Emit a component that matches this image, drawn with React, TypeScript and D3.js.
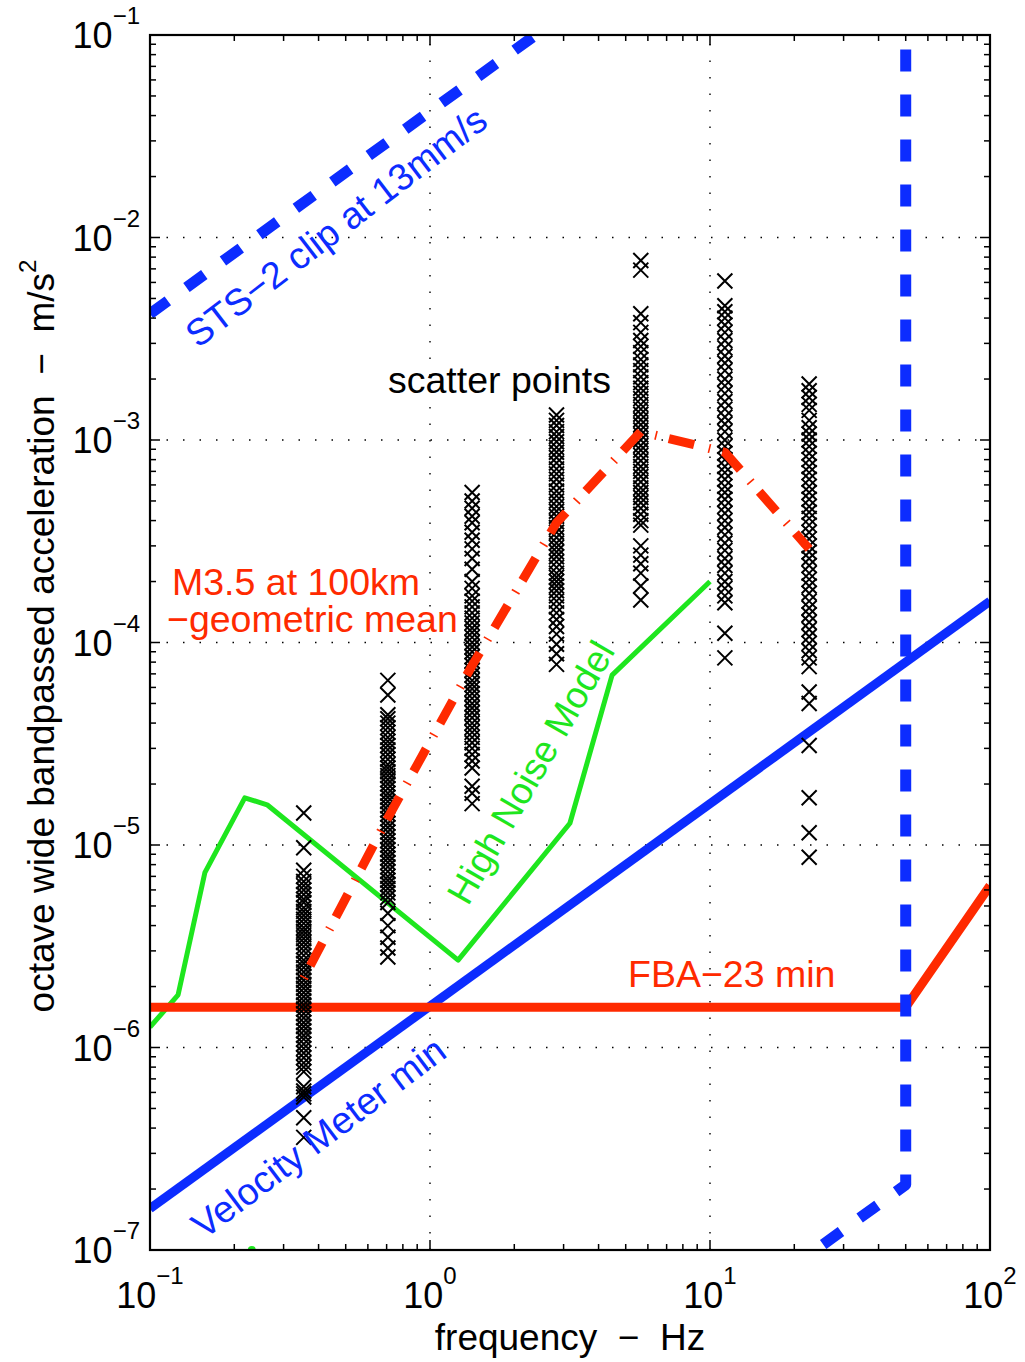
import React from "react";
import * as d3 from "d3";

// Octave band centre frequencies (Hz) of the scatter columns
const bandFreqs = [0.354, 0.707, 1.414, 2.83, 5.66, 11.3, 22.6];

// Band-passed peak accelerations (m/s^2) per octave band
const band1 = [1.44e-5, 9.7e-6, 7.5e-6, 7.0e-6, 6.6e-6, 6.3e-6, 6.0e-6, 5.7e-6, 5.4e-6, 5.2e-6, 4.9e-6, 4.7e-6, 4.5e-6, 4.3e-6, 4.1e-6, 3.9e-6, 3.75e-6, 3.6e-6, 3.45e-6, 3.3e-6, 3.15e-6, 3.0e-6, 2.85e-6, 2.7e-6, 2.6e-6, 2.48e-6, 2.36e-6, 2.25e-6, 2.15e-6, 2.05e-6, 1.96e-6, 1.87e-6, 1.78e-6, 1.7e-6, 1.62e-6, 1.55e-6, 1.47e-6, 1.4e-6, 1.33e-6, 1.27e-6, 1.21e-6, 1.15e-6, 1.1e-6, 1.04e-6, 9.9e-7, 9.4e-7, 8.9e-7, 8.4e-7, 8.0e-7, 7.6e-7, 6.4e-7, 6.1e-7, 5.9e-7, 5.7e-7, 4.5e-7, 3.6e-7];
const band2 = [6.5e-5, 5.5e-5, 4.4e-5, 4.2e-5, 4.0e-5, 3.8e-5, 3.6e-5, 3.4e-5, 3.25e-5, 3.1e-5, 2.95e-5, 2.8e-5, 2.65e-5, 2.5e-5, 2.4e-5, 2.3e-5, 2.2e-5, 2.1e-5, 2.0e-5, 1.9e-5, 1.8e-5, 1.72e-5, 1.64e-5, 1.56e-5, 1.49e-5, 1.42e-5, 1.35e-5, 1.28e-5, 1.22e-5, 1.16e-5, 1.1e-5, 1.05e-5, 1.0e-5, 9.5e-6, 9.0e-6, 8.6e-6, 8.2e-6, 7.8e-6, 7.4e-6, 7.0e-6, 6.7e-6, 6.4e-6, 6.1e-6, 5.8e-6, 5.5e-6, 5.2e-6, 4.6e-6, 4.0e-6, 3.5e-6, 3.1e-6, 2.8e-6];
const band3 = [5.5e-4, 5.0e-4, 4.6e-4, 4.2e-4, 3.9e-4, 3.5e-4, 3.2e-4, 2.9e-4, 2.6e-4, 2.3e-4, 2.0e-4, 1.85e-4, 1.7e-4, 1.6e-4, 1.5e-4, 1.4e-4, 1.32e-4, 1.25e-4, 1.18e-4, 1.12e-4, 1.06e-4, 1.0e-4, 9.5e-5, 9.0e-5, 8.5e-5, 8.1e-5, 7.7e-5, 7.3e-5, 6.9e-5, 6.5e-5, 6.2e-5, 5.9e-5, 5.6e-5, 5.3e-5, 5.0e-5, 4.75e-5, 4.5e-5, 4.25e-5, 4.0e-5, 3.8e-5, 3.6e-5, 3.4e-5, 3.2e-5, 3.0e-5, 2.8e-5, 2.6e-5, 2.4e-5, 1.95e-5, 1.8e-5, 1.6e-5];
const band4 = [1.33e-3, 1.25e-3, 1.18e-3, 1.1e-3, 1.04e-3, 9.8e-4, 9.2e-4, 8.7e-4, 8.2e-4, 7.7e-4, 7.2e-4, 6.8e-4, 6.4e-4, 6.0e-4, 5.6e-4, 5.3e-4, 5.0e-4, 4.7e-4, 4.45e-4, 4.2e-4, 3.95e-4, 3.7e-4, 3.5e-4, 3.3e-4, 3.1e-4, 2.95e-4, 2.8e-4, 2.65e-4, 2.5e-4, 2.35e-4, 2.2e-4, 2.1e-4, 2.0e-4, 1.9e-4, 1.8e-4, 1.7e-4, 1.6e-4, 1.5e-4, 1.4e-4, 1.3e-4, 1.2e-4, 1.1e-4, 9.8e-5, 8.8e-5, 7.8e-5];
const band5 = [7.7e-3, 6.9e-3, 4.2e-3, 3.8e-3, 3.4e-3, 3.1e-3, 2.9e-3, 2.7e-3, 2.5e-3, 2.35e-3, 2.2e-3, 2.05e-3, 1.92e-3, 1.8e-3, 1.7e-3, 1.6e-3, 1.5e-3, 1.42e-3, 1.34e-3, 1.26e-3, 1.19e-3, 1.12e-3, 1.06e-3, 1.0e-3, 9.4e-4, 8.9e-4, 8.4e-4, 7.9e-4, 7.4e-4, 7.0e-4, 6.6e-4, 6.2e-4, 5.8e-4, 5.5e-4, 5.2e-4, 4.9e-4, 4.6e-4, 4.3e-4, 4.0e-4, 3.8e-4, 3.0e-4, 2.7e-4, 2.45e-4, 2.2e-4, 1.9e-4, 1.62e-4];
const band6 = [6.1e-3, 4.6e-3, 4.3e-3, 4.0e-3, 3.7e-3, 3.4e-3, 3.1e-3, 2.85e-3, 2.6e-3, 2.4e-3, 2.2e-3, 2.0e-3, 1.85e-3, 1.7e-3, 1.55e-3, 1.42e-3, 1.3e-3, 1.2e-3, 1.1e-3, 1.0e-3, 9.3e-4, 8.6e-4, 8.0e-4, 7.4e-4, 6.9e-4, 6.4e-4, 5.9e-4, 5.5e-4, 5.1e-4, 4.7e-4, 4.35e-4, 4.0e-4, 3.7e-4, 3.4e-4, 3.1e-4, 2.85e-4, 2.6e-4, 2.4e-4, 2.2e-4, 2.0e-4, 1.85e-4, 1.7e-4, 1.57e-4, 1.11e-4, 8.4e-5];
const band7 = [1.89e-3, 1.75e-3, 1.62e-3, 1.5e-3, 1.4e-3, 1.25e-3, 1.15e-3, 1.07e-3, 1.0e-3, 9.3e-4, 8.6e-4, 8.0e-4, 7.4e-4, 6.9e-4, 6.4e-4, 5.9e-4, 5.5e-4, 5.1e-4, 4.7e-4, 4.4e-4, 4.1e-4, 3.8e-4, 3.5e-4, 3.25e-4, 3.0e-4, 2.8e-4, 2.6e-4, 2.4e-4, 2.2e-4, 2.05e-4, 1.9e-4, 1.75e-4, 1.6e-4, 1.48e-4, 1.37e-4, 1.26e-4, 1.16e-4, 1.07e-4, 9.9e-5, 9.1e-5, 8.4e-5, 7.6e-5, 5.7e-5, 5.0e-5, 3.1e-5, 1.71e-5, 1.15e-5, 8.7e-6];
const bandValues = [band1, band2, band3, band4, band5, band6, band7];

// M3.5 at 100 km geometric mean per band
const meanAccel = [2.2e-6, 1.36e-5, 7.7e-5, 3.9e-4, 1.1e-3, 8.7e-4, 2.9e-4];

// High noise model
const noiseFreq = [0.1, 0.126, 0.157, 0.218, 0.262, 1.26, 3.16, 4.47, 10];
const noiseAccel = [1.26e-6, 1.82e-6, 7.3e-6, 1.71e-5, 1.58e-5, 2.7e-6, 1.28e-5, 6.9e-5, 2.0e-4];
const lowNoiseFreq = [0.231];
const lowNoiseAccel = [1e-7];

// Velocity meter minimum
const velFreq = [0.1, 100];
const velAccel = [1.6e-7, 1.6e-4];

// FBA-23 minimum
const fbaFreq = [0.1, 50, 100];
const fbaAccel = [1.58e-6, 1.58e-6, 6.3e-6];

// STS-2 clip level
const clipFreq = [0.1, 50, 50, 10];
const clipAccel = [4.2e-3, 2.1, 2.1e-7, 4.2e-8];

const xTickExps = [-1, 0, 1, 2];
const yTickExps = [-7, -6, -5, -4, -3, -2, -1];

const BLUE = "#0c2cff";
const RED = "#ff2a00";
const GREEN = "#1ee61e";
const FONT = "'Liberation Sans', Arial, Helvetica, sans-serif";

const W = 1025;
const H = 1362;
const L = 150, R = 990, T = 35, B = 1250;

const sup = (e: number) => (e < 0 ? "\u2212" + Math.abs(e) : String(e));

export default function App() {
  const x = d3.scaleLog().domain([0.1, 100]).range([L, R]);
  const y = d3.scaleLog().domain([1e-7, 1e-1]).range([B, T]);

  const line = d3
    .line<[number, number]>()
    .x((d) => x(d[0]))
    .y((d) => y(d[1]));

  const zip = (fs: number[], vs: number[]) =>
    fs.map((f, i) => [f, vs[i]] as [number, number]);

  const minorX: number[] = [];
  for (let e = -1; e < 2; e++)
    for (let k = 2; k <= 9; k++) minorX.push(k * Math.pow(10, e));
  const minorY: number[] = [];
  for (let e = -7; e < -1; e++)
    for (let k = 2; k <= 9; k++) minorY.push(k * Math.pow(10, e));

  const meanPath = line(zip(bandFreqs, meanAccel)) || "";
  const m = 7.5; // half size of the x markers

  return (
    <svg
      width={W}
      height={H}
      style={{ position: "absolute", left: 0, top: 0, background: "#fff" }}
      fontFamily={FONT}
    >
      <defs>
        <clipPath id="plotArea">
          <rect x={L} y={T} width={R - L} height={B - T} />
        </clipPath>
      </defs>
      <rect width={W} height={H} fill="#fff" />

      {/* decade grid */}
      <g stroke="#000" strokeWidth={1.4} strokeDasharray="1.5 15">
        {xTickExps.slice(1, -1).map((e) => (
          <line key={"gx" + e} x1={x(Math.pow(10, e))} x2={x(Math.pow(10, e))} y1={B} y2={T} />
        ))}
        {yTickExps.slice(1, -1).map((e) => (
          <line key={"gy" + e} x1={L} x2={R} y1={y(Math.pow(10, e))} y2={y(Math.pow(10, e))} />
        ))}
      </g>

      <g clipPath="url(#plotArea)" fill="none" strokeLinejoin="round">
        <path d={line(zip(noiseFreq, noiseAccel)) || ""} stroke={GREEN} strokeWidth={5} />
        {zip(lowNoiseFreq, lowNoiseAccel).map((d, i) => (
          <circle key={"ln" + i} cx={x(d[0])} cy={y(d[1])} r={4} fill={GREEN} />
        ))}
        <path d={line(zip(velFreq, velAccel)) || ""} stroke={BLUE} strokeWidth={9} />
        <path d={line(zip(fbaFreq, fbaAccel)) || ""} stroke={RED} strokeWidth={9} />

        {/* scatter points */}
        <g stroke="#000" strokeWidth={2}>
          {bandValues.map((vals, bi) =>
            vals.map((v, i) => {
              const cx = x(bandFreqs[bi]);
              const cy = y(v);
              return (
                <path
                  key={bi + "-" + i}
                  d={`M${cx - m},${cy - m}L${cx + m},${cy + m}M${cx - m},${cy + m}L${cx + m},${cy - m}`}
                />
              );
            })
          )}
        </g>

        {/* geometric mean, dash-dot */}
        <path d={meanPath} stroke={RED} strokeWidth={9} strokeDasharray="26 29" strokeDashoffset={41} />
        <path d={meanPath} stroke={RED} strokeWidth={9} strokeDasharray="1.6 53.4" />

        <path
          d={line(zip(clipFreq, clipAccel)) || ""}
          stroke={BLUE}
          strokeWidth={11}
          strokeDasharray="22 23"
        />
      </g>

      {/* frame */}
      <rect x={L} y={T} width={R - L} height={B - T} fill="none" stroke="#000" strokeWidth={2.2} />

      {/* ticks */}
      <g stroke="#000" strokeWidth={1.5}>
        {minorX.map((f) => (
          <g key={"mx" + f}>
            <line x1={x(f)} x2={x(f)} y1={B} y2={B - 6} />
            <line x1={x(f)} x2={x(f)} y1={T} y2={T + 6} />
          </g>
        ))}
        {minorY.map((v) => (
          <g key={"my" + v}>
            <line x1={L} x2={L + 6} y1={y(v)} y2={y(v)} />
            <line x1={R} x2={R - 6} y1={y(v)} y2={y(v)} />
          </g>
        ))}
        {xTickExps.map((e) => (
          <g key={"Mx" + e}>
            <line x1={x(Math.pow(10, e))} x2={x(Math.pow(10, e))} y1={B} y2={B - 10} />
            <line x1={x(Math.pow(10, e))} x2={x(Math.pow(10, e))} y1={T} y2={T + 10} />
          </g>
        ))}
        {yTickExps.map((e) => (
          <g key={"My" + e}>
            <line x1={L} x2={L + 10} y1={y(Math.pow(10, e))} y2={y(Math.pow(10, e))} />
            <line x1={R} x2={R - 10} y1={y(Math.pow(10, e))} y2={y(Math.pow(10, e))} />
          </g>
        ))}
      </g>

      {/* tick labels */}
      <g fill="#000" fontSize={36}>
        {xTickExps.map((e) => (
          <text key={"tx" + e} x={x(Math.pow(10, e))} y={1308} textAnchor="middle">
            10
            <tspan fontSize={24} dy={-24}>{sup(e)}</tspan>
          </text>
        ))}
        {yTickExps.map((e) => (
          <text key={"ty" + e} x={140} y={y(Math.pow(10, e)) + 13} textAnchor="end">
            10
            <tspan fontSize={24} dy={-24}>{sup(e)}</tspan>
          </text>
        ))}
      </g>

      {/* axis titles */}
      <text x={570} y={1350} fontSize={37} textAnchor="middle" fill="#000" xmlSpace="preserve">
        {"frequency  \u2212  Hz"}
      </text>
      <text
        transform="translate(54,636) rotate(-90)"
        fontSize={37}
        textAnchor="middle"
        fill="#000"
        xmlSpace="preserve"
      >
        {"octave wide bandpassed acceleration  \u2212  m/s"}
        <tspan fontSize={24} dy={-18}>2</tspan>
      </text>

      {/* annotations */}
      <g fontSize={37.5}>
        <text transform="translate(198,349) rotate(-37.5)" fill={BLUE}>
          STS{"\u2212"}2 clip at 13mm/s
        </text>
        <text x={388} y={393} fill="#000">scatter points</text>
        <text x={172} y={595} fill={RED}>M3.5 at 100km</text>
        <text x={167} y={632} fill={RED}>{"\u2212"}geometric mean</text>
        <text transform="translate(468,907) rotate(-60)" fill={GREEN}>High Noise Model</text>
        <text x={628} y={987} fill={RED}>FBA{"\u2212"}23 min</text>
        <text transform="translate(204,1240) rotate(-37)" fill={BLUE}>Velocity Meter min</text>
      </g>
    </svg>
  );
}
